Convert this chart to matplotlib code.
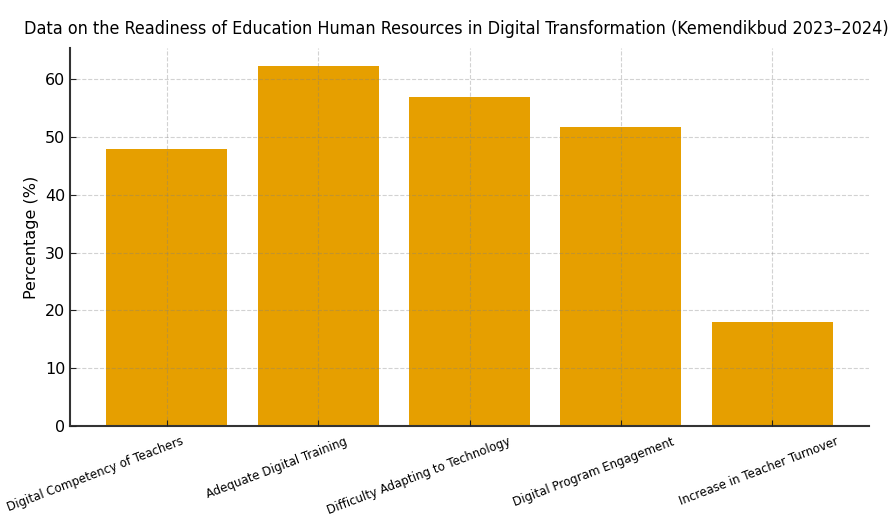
import matplotlib
matplotlib.use('Agg')
import matplotlib.pyplot as plt
import matplotlib.transforms as mtransforms

# data
categories = ['Digital Competency of Teachers', 'Adequate Digital Training',
              'Difficulty Adapting to Technology', 'Digital Program Engagement',
              'Increase in Teacher Turnover']
values = [48.0, 62.3, 57.0, 51.7, 18.0]

fig = plt.figure(figsize=(8.91, 5.19), dpi=100)
ax = fig.add_axes([70 / 891, 93 / 519, 799 / 891, 378 / 519])

x = list(range(len(categories)))
ax.bar(x, values, width=0.8, color='#E69F00')

ax.set_xticks(x)
ax.set_xticklabels([])
# labels sit a bit right of their ticks in the reference, so place them by hand
base = mtransforms.blended_transform_factory(ax.transData, ax.transAxes)
for i, name in enumerate(categories):
    dx = (18 + 12.5 * i) / 100
    off = mtransforms.ScaledTranslation(dx, -0.09, fig.dpi_scale_trans)
    ax.text(i, 0, name, transform=base + off, rotation=21, ha='right', va='top',
            fontsize=8.5)

ax.set_ylabel('Percentage (%)', fontsize=11.5)
ax.tick_params(axis='y', labelsize=11.5)
ax.tick_params(direction='in', length=4, color='#222222')

ax.grid(True, linestyle='--', color='gray', alpha=0.35, linewidth=0.8)
ax.set_axisbelow(False)

for s in ['top', 'right']:
    ax.spines[s].set_visible(False)
for s in ['left', 'bottom']:
    ax.spines[s].set_color('#333333')
    ax.spines[s].set_linewidth(1.5)

ax.set_title('Data on the Readiness of Education Human Resources in Digital Transformation (Kemendikbud 2023–2024)',
             fontsize=12.9, x=(456 - 70) / 799, pad=10, fontstretch='condensed')

fig.savefig('out.png', dpi=100)
